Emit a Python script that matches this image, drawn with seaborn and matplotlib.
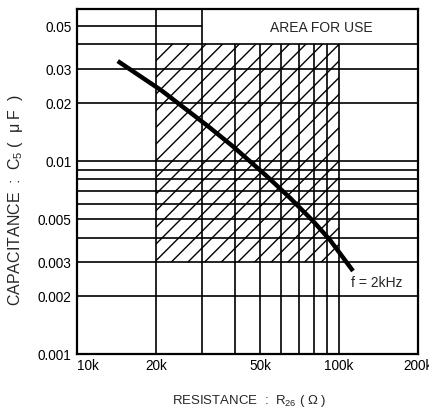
import matplotlib
matplotlib.use("Agg")
import matplotlib.pyplot as plt
import seaborn as sns
import pandas as pd

# ---- data ----
resistance = [14.3e3, 21.1e3, 31.6e3, 39.4e3, 53.1e3, 65.0e3, 79.5e3, 92.3e3, 113.0e3]
capacitance = [0.0328, 0.0230, 0.0151, 0.01185, 0.0083, 0.00642, 0.00488, 0.00389, 0.00269]

x_ticks = [10e3, 20e3, 50e3, 100e3, 200e3]
x_tick_labels = ["10k", "20k", "50k", "100k", "200k"]
y_ticks = [0.001, 0.002, 0.003, 0.005, 0.01, 0.02, 0.03, 0.05]
y_tick_labels = ["0.001", "0.002", "0.003", "0.005", "0.01", "0.02", "0.03", "0.05"]

x_grid_full = [20e3, 30e3]
x_grid_short = [40e3, 50e3, 60e3, 70e3, 80e3, 90e3, 100e3]
y_grid_full = [0.002, 0.003, 0.004, 0.005, 0.006, 0.007, 0.008, 0.009,
               0.01, 0.02, 0.03, 0.04]
y_grid_short = [0.05]

area_x = [20e3, 100e3]
area_y = [0.003, 0.04]

x_lim = [10e3, 200e3]
y_lim = [0.001, 0.061]

# ---- styling ----
sns.set_style("white")
plt.rcParams["font.family"] = ["Liberation Sans", "DejaVu Sans"]
plt.rcParams["mathtext.fontset"] = "custom"
plt.rcParams["mathtext.rm"] = "Liberation Sans"
plt.rcParams["hatch.linewidth"] = 1.0

fig = plt.figure(figsize=(4.29, 4.10), dpi=100)
W, H = 429, 410
L, R, T, B = 77, 418, 10, 355
ax = fig.add_axes([L / W, 1 - B / H, (R - L) / W, (B - T) / H])
ax.set_xscale("log")
ax.set_yscale("log")
ax.set_xlim(*x_lim)
ax.set_ylim(*y_lim)

# hatched usable area
ax.fill_between(area_x, area_y[0], area_y[1], facecolor="none",
                hatch="//", edgecolor="black", linewidth=0, zorder=1)

gl = dict(color="black", linewidth=1.2, zorder=2)
for xv in x_grid_full:
    ax.vlines(xv, y_lim[0], y_lim[1], **gl)
for xv in x_grid_short:
    ax.vlines(xv, y_lim[0], area_y[1], **gl)
for yv in y_grid_full:
    ax.hlines(yv, x_lim[0], x_lim[1], **gl)
for yv in y_grid_short:
    ax.hlines(yv, x_lim[0], x_grid_full[1], **gl)

df = pd.DataFrame({"R": resistance, "C": capacitance})
sns.lineplot(data=df, x="R", y="C", ax=ax, color="black", linewidth=3.2,
             zorder=5, solid_capstyle="butt", solid_joinstyle="round")

for s in ax.spines.values():
    s.set_visible(True)
    s.set_color("black")
    s.set_linewidth(1.6)

ax.xaxis.set_major_locator(matplotlib.ticker.FixedLocator(x_ticks))
ax.xaxis.set_minor_locator(matplotlib.ticker.NullLocator())
ax.set_xticklabels(x_tick_labels)
ax.yaxis.set_major_locator(matplotlib.ticker.FixedLocator(y_ticks))
ax.yaxis.set_minor_locator(matplotlib.ticker.NullLocator())
ax.set_yticklabels(y_tick_labels)
ax.tick_params(axis="both", length=0, labelsize=9.8, colors="black")
ax.tick_params(axis="x", pad=3)
ax.tick_params(axis="y", pad=4)
ax.get_xticklabels()[0].set_horizontalalignment("left")
ax.set_xlabel("")
ax.set_ylabel("")

ax.text(0.716, 0.948, "AREA FOR USE", transform=ax.transAxes,
        ha="center", va="center", fontsize=10)
ax.text(0.880, 0.209, "f = 2kHz", transform=ax.transAxes,
        ha="center", va="center", fontsize=10)

fig.text(249 / W, 1 - 401 / H, r"RESISTANCE  :  R$_{\mathregular{26}}$ ( Ω )",
         ha="center", va="center", fontsize=9.5)
fig.text(16 / W, 1 - 200 / H, r"CAPACITANCE  :  C$_{\mathregular{5}}$ (  μ F  )",
         ha="center", va="center", fontsize=11.5, rotation=90)

fig.savefig("out.png", dpi=100)
